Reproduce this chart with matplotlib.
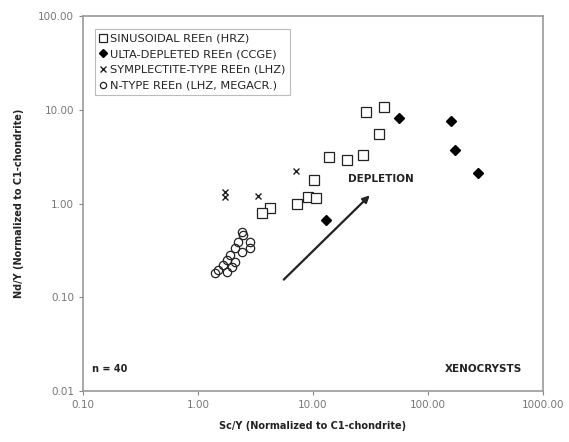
import matplotlib
matplotlib.use("Agg")
import matplotlib.pyplot as plt

# SINUSOIDAL REEn (HRZ) - open squares
sin_x = [28.7, 41.7, 37.5, 13.8, 19.6, 27.0, 10.2, 9.1, 10.6, 7.2, 4.23, 3.58]
sin_y = [9.4, 10.6, 5.56, 3.14, 2.88, 3.31, 1.76, 1.18, 1.14, 1.0, 0.90, 0.79]

# ULTA-DEPLETED REEn (CCGE) - filled diamonds
ult_x = [56.3, 158, 172, 274, 12.9]
ult_y = [8.2, 7.6, 3.72, 2.13, 0.67]

# SYMPLECTITE-TYPE REEn (LHZ) - crosses
sym_x = [1.72, 1.72, 3.32, 7.1]
sym_y = [1.33, 1.17, 1.2, 2.22]

# N-TYPE REEn (LHZ, MEGACR.) - open circles
nt_x = [2.40, 2.46, 2.83, 2.23, 2.10, 2.83, 2.40, 1.90, 1.78, 2.10, 1.65, 1.96, 1.50, 1.41, 1.78]
nt_y = [0.50, 0.46, 0.39, 0.39, 0.335, 0.335, 0.306, 0.282, 0.25, 0.24, 0.22, 0.21, 0.195, 0.18, 0.187]

labels = ["SINUSOIDAL REEn (HRZ)", "ULTA-DEPLETED REEn (CCGE)",
          "SYMPLECTITE-TYPE REEn (LHZ)", "N-TYPE REEn (LHZ, MEGACR.)"]

ticks = [0.01, 0.1, 1, 10, 100, 1000]
tick_labels = ["0.01", "0.10", "1.00", "10.00", "100.00", "1000.00"]

fig = plt.figure(figsize=(5.69, 4.42), dpi=100)
ax = fig.add_axes([83/569, 1-391/442, 460/569, 375/442])

ax.plot(sin_x, sin_y, ls='none', marker='s', ms=7, mfc='white', mec='#222', mew=0.9, label=labels[0])
ax.plot(ult_x, ult_y, ls='none', marker='D', ms=5, mfc='black', mec='black', label=labels[1])
ax.plot(sym_x, sym_y, ls='none', marker='x', ms=5, mec='#222', mew=1.0, label=labels[2])
ax.plot(nt_x, nt_y, ls='none', marker='o', ms=6, mfc='none', mec='#222', mew=0.9, label=labels[3])

ax.set_xscale('log')
ax.set_yscale('log')
ax.set_xlim(0.1, 1000)
ax.set_ylim(0.01, 100)
ax.set_xticks(ticks[1:])
ax.set_xticklabels(tick_labels[1:])
ax.set_yticks(ticks[:-1])
ax.set_yticklabels(tick_labels[:-1])
ax.minorticks_off()
ax.tick_params(labelsize=7.5, colors='#888', labelcolor='#777', length=3, width=0.8)

for s in ax.spines.values():
    s.set_color('#999')
    s.set_linewidth(1.2)

ax.set_xlabel("Sc/Y (Normalized to C1-chondrite)", fontsize=7, fontweight='bold', color='#222', labelpad=8)
ax.set_ylabel("Nd/Y (Normalized to C1-chondrite)", fontsize=7, fontweight='bold', color='#222', labelpad=10)

# depletion arrow
ax.annotate("", xy=(32.4, 1.28), xytext=(5.35, 0.147),
            arrowprops=dict(arrowstyle='-|>', color='#222', lw=1.6, mutation_scale=10))
ax.text(20.1, 1.82, "DEPLETION", fontsize=7.5, fontweight='bold', color='#222', va='center')
ax.text(0.12, 0.0172, "n = 40", fontsize=7, fontweight='bold', color='#222', va='center')
ax.text(657, 0.0172, "XENOCRYSTS", fontsize=7.5, fontweight='bold', color='#222', va='center', ha='right')

leg = ax.legend(loc='upper left', bbox_to_anchor=(12/460, 1-13/375), fontsize=8.2,
                frameon=True, fancybox=False, edgecolor='#aaa', handlelength=0.6,
                handletextpad=0.3, borderpad=0.4, labelspacing=0.5, borderaxespad=0,
                markerscale=0.75)
leg.get_frame().set_linewidth(0.8)
for t in leg.get_texts():
    t.set_color('#222')

fig.savefig("out.png", dpi=100)
